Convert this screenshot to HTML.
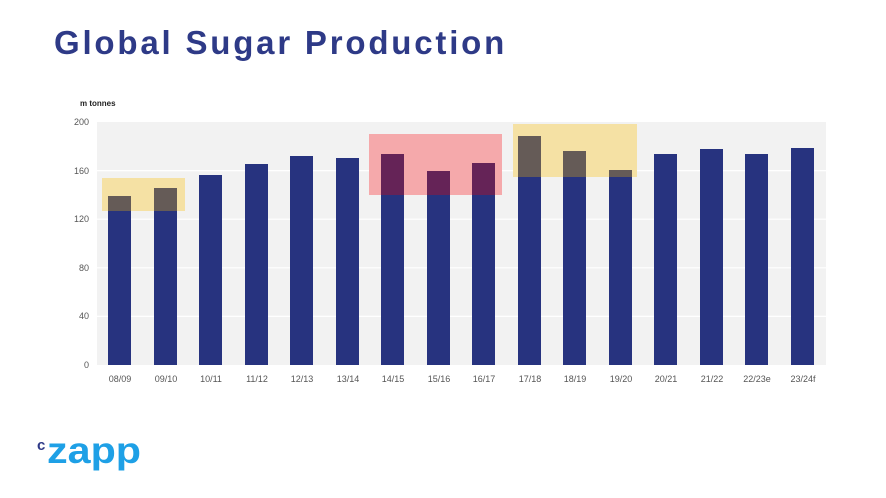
<!DOCTYPE html>
<html><head><meta charset="utf-8"><style>
body{margin:0;background:#fff;width:886px;height:493px;overflow:hidden;font-family:"Liberation Sans",sans-serif}
</style></head><body>
<svg width="886" height="493" xmlns="http://www.w3.org/2000/svg" font-family="Liberation Sans, sans-serif">
<text x="54" y="54" font-size="33" font-weight="bold" fill="#2e3a87" letter-spacing="2.8">Global Sugar Production</text>
<text x="80" y="106" font-size="8" font-weight="bold" fill="#222">m tonnes</text>
<rect x="97" y="122" width="729" height="243" fill="#f2f2f2"/>
<g stroke="#fff" stroke-width="1.2">
<line x1="97" x2="826" y1="170.6" y2="170.6"/><line x1="97" x2="826" y1="219.2" y2="219.2"/>
<line x1="97" x2="826" y1="267.8" y2="267.8"/><line x1="97" x2="826" y1="316.4" y2="316.4"/>
</g>
<g font-size="9" fill="#555" text-anchor="end">
<text x="89" y="125">200</text><text x="89" y="174">160</text><text x="89" y="222">120</text>
<text x="89" y="271">80</text><text x="89" y="319">40</text><text x="89" y="368">0</text>
</g>
<rect x="102" y="178" width="83" height="33" fill="#f5e1a4"/>
<rect x="369" y="134" width="133" height="61" fill="#f5a9ab"/>
<rect x="513" y="124" width="124" height="53" fill="#f5e1a4"/>
<g fill="#27337f">
<rect x="108" y="196" width="23" height="169"/>
<rect x="154" y="188" width="23" height="177"/>
<rect x="199" y="175" width="23" height="190"/>
<rect x="245" y="164" width="23" height="201"/>
<rect x="290" y="156" width="23" height="209"/>
<rect x="336" y="158" width="23" height="207"/>
<rect x="381" y="154" width="23" height="211"/>
<rect x="427" y="171" width="23" height="194"/>
<rect x="472" y="163" width="23" height="202"/>
<rect x="518" y="136" width="23" height="229"/>
<rect x="563" y="151" width="23" height="214"/>
<rect x="609" y="170" width="23" height="195"/>
<rect x="654" y="154" width="23" height="211"/>
<rect x="700" y="149" width="23" height="216"/>
<rect x="745" y="154" width="23" height="211"/>
<rect x="791" y="148" width="23" height="217"/>
</g>
<g fill="#655b57">
<rect x="108" y="196" width="23" height="15"/>
<rect x="154" y="188" width="23" height="23"/>
<rect x="518" y="136" width="23" height="41"/>
<rect x="563" y="151" width="23" height="26"/>
<rect x="609" y="170" width="23" height="7"/>
</g>
<g fill="#652357">
<rect x="381" y="154" width="23" height="41"/>
<rect x="427" y="171" width="23" height="24"/>
<rect x="472" y="163" width="23" height="32"/>
</g>
<g font-size="9" fill="#555" text-anchor="middle">
<text x="120" y="382">08/09</text><text x="166" y="382">09/10</text><text x="211" y="382">10/11</text>
<text x="257" y="382">11/12</text><text x="302" y="382">12/13</text><text x="348" y="382">13/14</text>
<text x="393" y="382">14/15</text><text x="439" y="382">15/16</text><text x="484" y="382">16/17</text>
<text x="530" y="382">17/18</text><text x="575" y="382">18/19</text><text x="621" y="382">19/20</text>
<text x="666" y="382">20/21</text><text x="712" y="382">21/22</text><text x="757" y="382">22/23e</text>
<text x="803" y="382">23/24f</text>
</g>
<text x="37" y="450" font-size="15" font-weight="bold" fill="#2e3a87">c</text>
<text x="47" y="463" font-size="37" font-weight="bold" fill="#1ea0e6" textLength="94" lengthAdjust="spacingAndGlyphs">zapp</text>
</svg>
</body></html>
